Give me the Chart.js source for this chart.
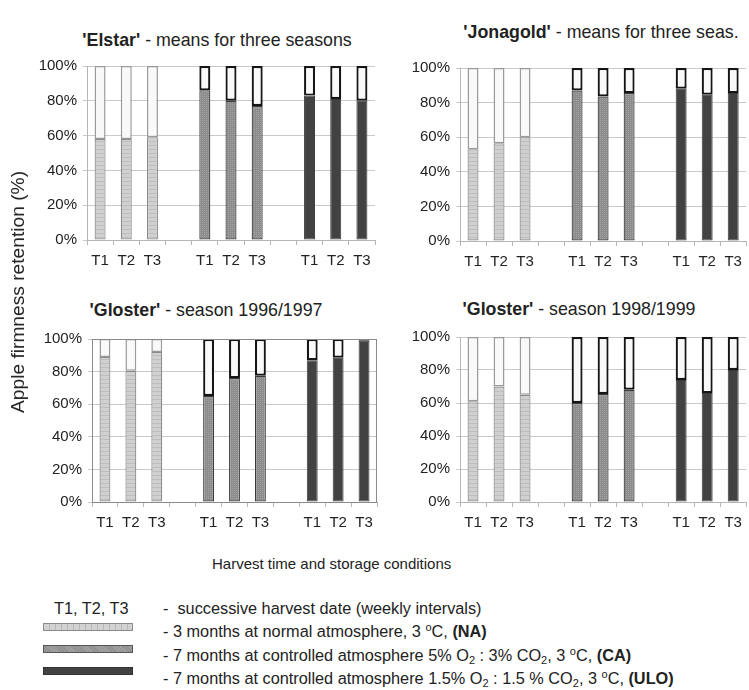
<!DOCTYPE html>
<html>
<head>
<meta charset="utf-8">
<script src="https://cdn.jsdelivr.net/npm/chart.js@4.4.1/dist/chart.umd.min.js"></script>
<style>
  body { margin: 0; background: #ffffff; font-family: 'Liberation Sans', Arial, sans-serif; color: #222; }
  #wrap { position: relative; width: 749px; height: 690px; overflow: hidden; }
  .box { position: absolute; }
  .ttl { position: absolute; transform: translate(-50%, -50%); font-size: 17.8px; white-space: nowrap; }
  .ttl b { font-weight: bold; }
  #ytitle { position: absolute; left: 18px; top: 292px; transform: translate(-50%, -50%) rotate(-90deg); font-size: 19.2px; white-space: nowrap; }
  #xtitle { position: absolute; left: 212px; top: 563px; transform: translateY(-50%); font-size: 15px; white-space: nowrap; }
  .lg { position: absolute; left: 163px; transform: translateY(-50%); font-size: 16.3px; white-space: nowrap; }
  .sw { position: absolute; left: 43px; width: 88px; height: 6px; }
  sub { font-size: 11px; vertical-align: -3px; }
  sup { font-size: 11px; vertical-align: 6px; }
</style>
</head>
<body>
<div id="wrap">
  <div class="ttl" style="left:217px; top:40px;"><b>'Elstar'</b> - means for three seasons</div>
  <div class="ttl" style="left:601px; top:32px;"><b>'Jonagold'</b> - means for three seas.</div>
  <div class="ttl" style="left:206px; top:310px;"><b>'Gloster'</b> - season 1996/1997</div>
  <div class="ttl" style="left:579px; top:309px;"><b>'Gloster'</b> - season 1998/1999</div>

  <div class="box" style="left:0px; top:50px;"><canvas id="c_elstar" width="380" height="230"></canvas></div>
  <div class="box" style="left:370px; top:50px;"><canvas id="c_jona" width="379" height="230"></canvas></div>
  <div class="box" style="left:0px; top:320px;"><canvas id="c_glo97" width="380" height="230"></canvas></div>
  <div class="box" style="left:370px; top:320px;"><canvas id="c_glo99" width="379" height="230"></canvas></div>

  <div id="ytitle">Apple firmness retention (%)</div>
  <div id="xtitle">Harvest time and storage conditions</div>

  <div class="lg" style="left:54px; top:608px;">T1, T2, T3</div>
  <div class="lg" style="top:608px;">-&nbsp; successive harvest date (weekly intervals)</div>
  <div class="sw" style="top:623px; border:1px solid #8a8a8a; background: repeating-linear-gradient(90deg, #d2d2d2 0 5px, #b8b8b8 5px 6px);"></div>
  <div class="lg" style="top:631px;">- 3 months at normal atmosphere, 3 <sup>o</sup>C, <b>(NA)</b></div>
  <div class="sw" style="top:645px; border:1px solid #555; background: repeating-linear-gradient(45deg, #8c8c8c 0 1px, #a4a4a4 1px 2px);"></div>
  <div class="lg" style="top:655px;">- 7 months at controlled atmosphere 5% O<sub>2</sub> : 3% CO<sub>2</sub>, 3 <sup>o</sup>C, <b>(CA)</b></div>
  <div class="sw" style="top:667px; border:1px solid #333; background:#424242;"></div>
  <div class="lg" style="top:678px;">- 7 months at controlled atmosphere 1.5% O<sub>2</sub> : 1.5 % CO<sub>2</sub>, 3 <sup>o</sup>C, <b>(ULO)</b></div>
</div>

<script>
// 類別 (空字串 = 組間空位)
const cats = ['T1', 'T2', 'T3', '', 'T1', 'T2', 'T3', '', 'T1', 'T2', 'T3'];
const yTicks = [0, 20, 40, 60, 80, 100];

// retained firmness (%) for NA, CA, ULO
const elstarNA = [58, 58, 59];
const elstarCA = [86, 80, 77];
const elstarULO = [83, 81, 80];

const jonaNA = [53, 56.5, 60];
const jonaCA = [87, 83.5, 85.5];
const jonaULO = [88, 84.5, 85.5];

const glo97NA = [89, 80.5, 92];
const glo97CA = [65, 76, 77.5];
const glo97ULO = [87, 88.5, 99];

const glo99NA = [61, 70, 65];
const glo99CA = [60, 65.5, 68];
const glo99ULO = [74, 66, 80];

Chart.defaults.font.family = "'Liberation Sans', Arial, sans-serif";
Chart.defaults.color = '#222';

// texture fills
function makePattern(kind){
    const c = document.createElement('canvas');
    c.width = 4; c.height = 4;
    const g = c.getContext('2d');
    if (kind === 'na') {
        g.fillStyle = '#d0d0d0'; g.fillRect(0, 0, 4, 4);
        g.fillStyle = '#bdbdbd'; g.fillRect(0, 3, 4, 1);
    } else {
        g.fillStyle = '#8c8c8c'; g.fillRect(0, 0, 4, 4);
        g.fillStyle = '#a3a3a3';
        g.fillRect(0, 0, 1, 1); g.fillRect(2, 2, 1, 1);
        g.fillRect(2, 0, 1, 1); g.fillRect(0, 2, 1, 1);
    }
    return g.createPattern(c, 'repeat');
}
const naFill = makePattern('na');
const caFill = makePattern('ca');
const uloFill = '#424242';

function per(a, b, c, gap){
    return [a, a, a, gap, b, b, b, gap, c, c, c];
}

// frame round the plot (only used by 1996/1997 panel)
const framePlugin = {
    id: 'frame',
    afterDraw(chart, args, opts){
        if (!opts.display) return;
        const a = chart.chartArea;
        const ctx = chart.ctx;
        ctx.save();
        ctx.strokeStyle = opts.color;
        ctx.lineWidth = 1;
        ctx.strokeRect(a.left + 0.5, a.top + 0.5, a.right - a.left - 1, a.bottom - a.top);
        ctx.restore();
    }
};

function draw_panel(id, na, ca, ulo, box){
    const kept = [...na, null, ...ca, null, ...ulo];
    const lost = kept.map(v => v === null ? null : 100 - v);
    const ctx = document.getElementById(id).getContext('2d');

    new Chart(ctx, {
        type: 'bar',
        data: {
            labels: cats,
            datasets: [{
                label: 'retained',
                data: kept,
                backgroundColor: per(naFill, caFill, uloFill, null),
                borderColor: per('#8a8a8a', '#3a3a3a', '#3a3a3a', null),
                borderWidth: per(1.2, 1.2, 1, 0),
                borderSkipped: false,
                barPercentage: 0.42,
                categoryPercentage: 1.0
            }, {
                label: 'lost',
                data: lost,
                backgroundColor: '#f9f9f9',
                borderColor: per('#9a9a9a', '#151515', '#151515', null),
                borderWidth: per(1.5, 2.2, 2.2, 0),
                borderSkipped: false,
                barPercentage: 0.42,
                categoryPercentage: 1.0
            }]
        },
        options: {
            responsive: false,
            animation: false,
            layout: {
                padding: { left: 0, right: box.right, top: box.top, bottom: 0 }
            },
            scales: {
                x: {
                    stacked: true,
                    afterFit: s => { s.height = box.xh; },
                    grid: { drawOnChartArea: false, tickLength: 5, color: '#b5b5b5', offset: true },
                    border: { color: '#b5b5b5' },
                    ticks: { font: { size: 15 }, padding: 7, maxRotation: 0, autoSkip: false }
                },
                y: {
                    stacked: true,
                    min: 0,
                    max: 100,
                    afterFit: s => { s.width = box.yw; },
                    afterBuildTicks: s => { s.ticks = yTicks.map(v => ({ value: v })); },
                    grid: { color: '#cacaca', tickLength: 4 },
                    border: { color: '#b5b5b5' },
                    ticks: {
                        font: { size: 15 },
                        padding: 6,
                        callback: v => v + '%'
                    }
                }
            },
            plugins: {
                legend: { display: false },
                tooltip: { enabled: false },
                frame: { display: !!box.frame, color: '#8a8a8a' }
            }
        },
        plugins: [framePlugin]
    });
}

draw_panel('c_elstar', elstarNA, elstarCA, elstarULO, { yw: 87, right: 5, top: 16, xh: 40 });
draw_panel('c_jona', jonaNA, jonaCA, jonaULO, { yw: 90, right: 1, top: 18, xh: 39 });
draw_panel('c_glo97', glo97NA, glo97CA, glo97ULO, { yw: 92, right: 3, top: 19, xh: 48, frame: true });
draw_panel('c_glo99', glo99NA, glo99CA, glo99ULO, { yw: 90, right: 1, top: 17, xh: 48 });
</script>
</body>
</html>
